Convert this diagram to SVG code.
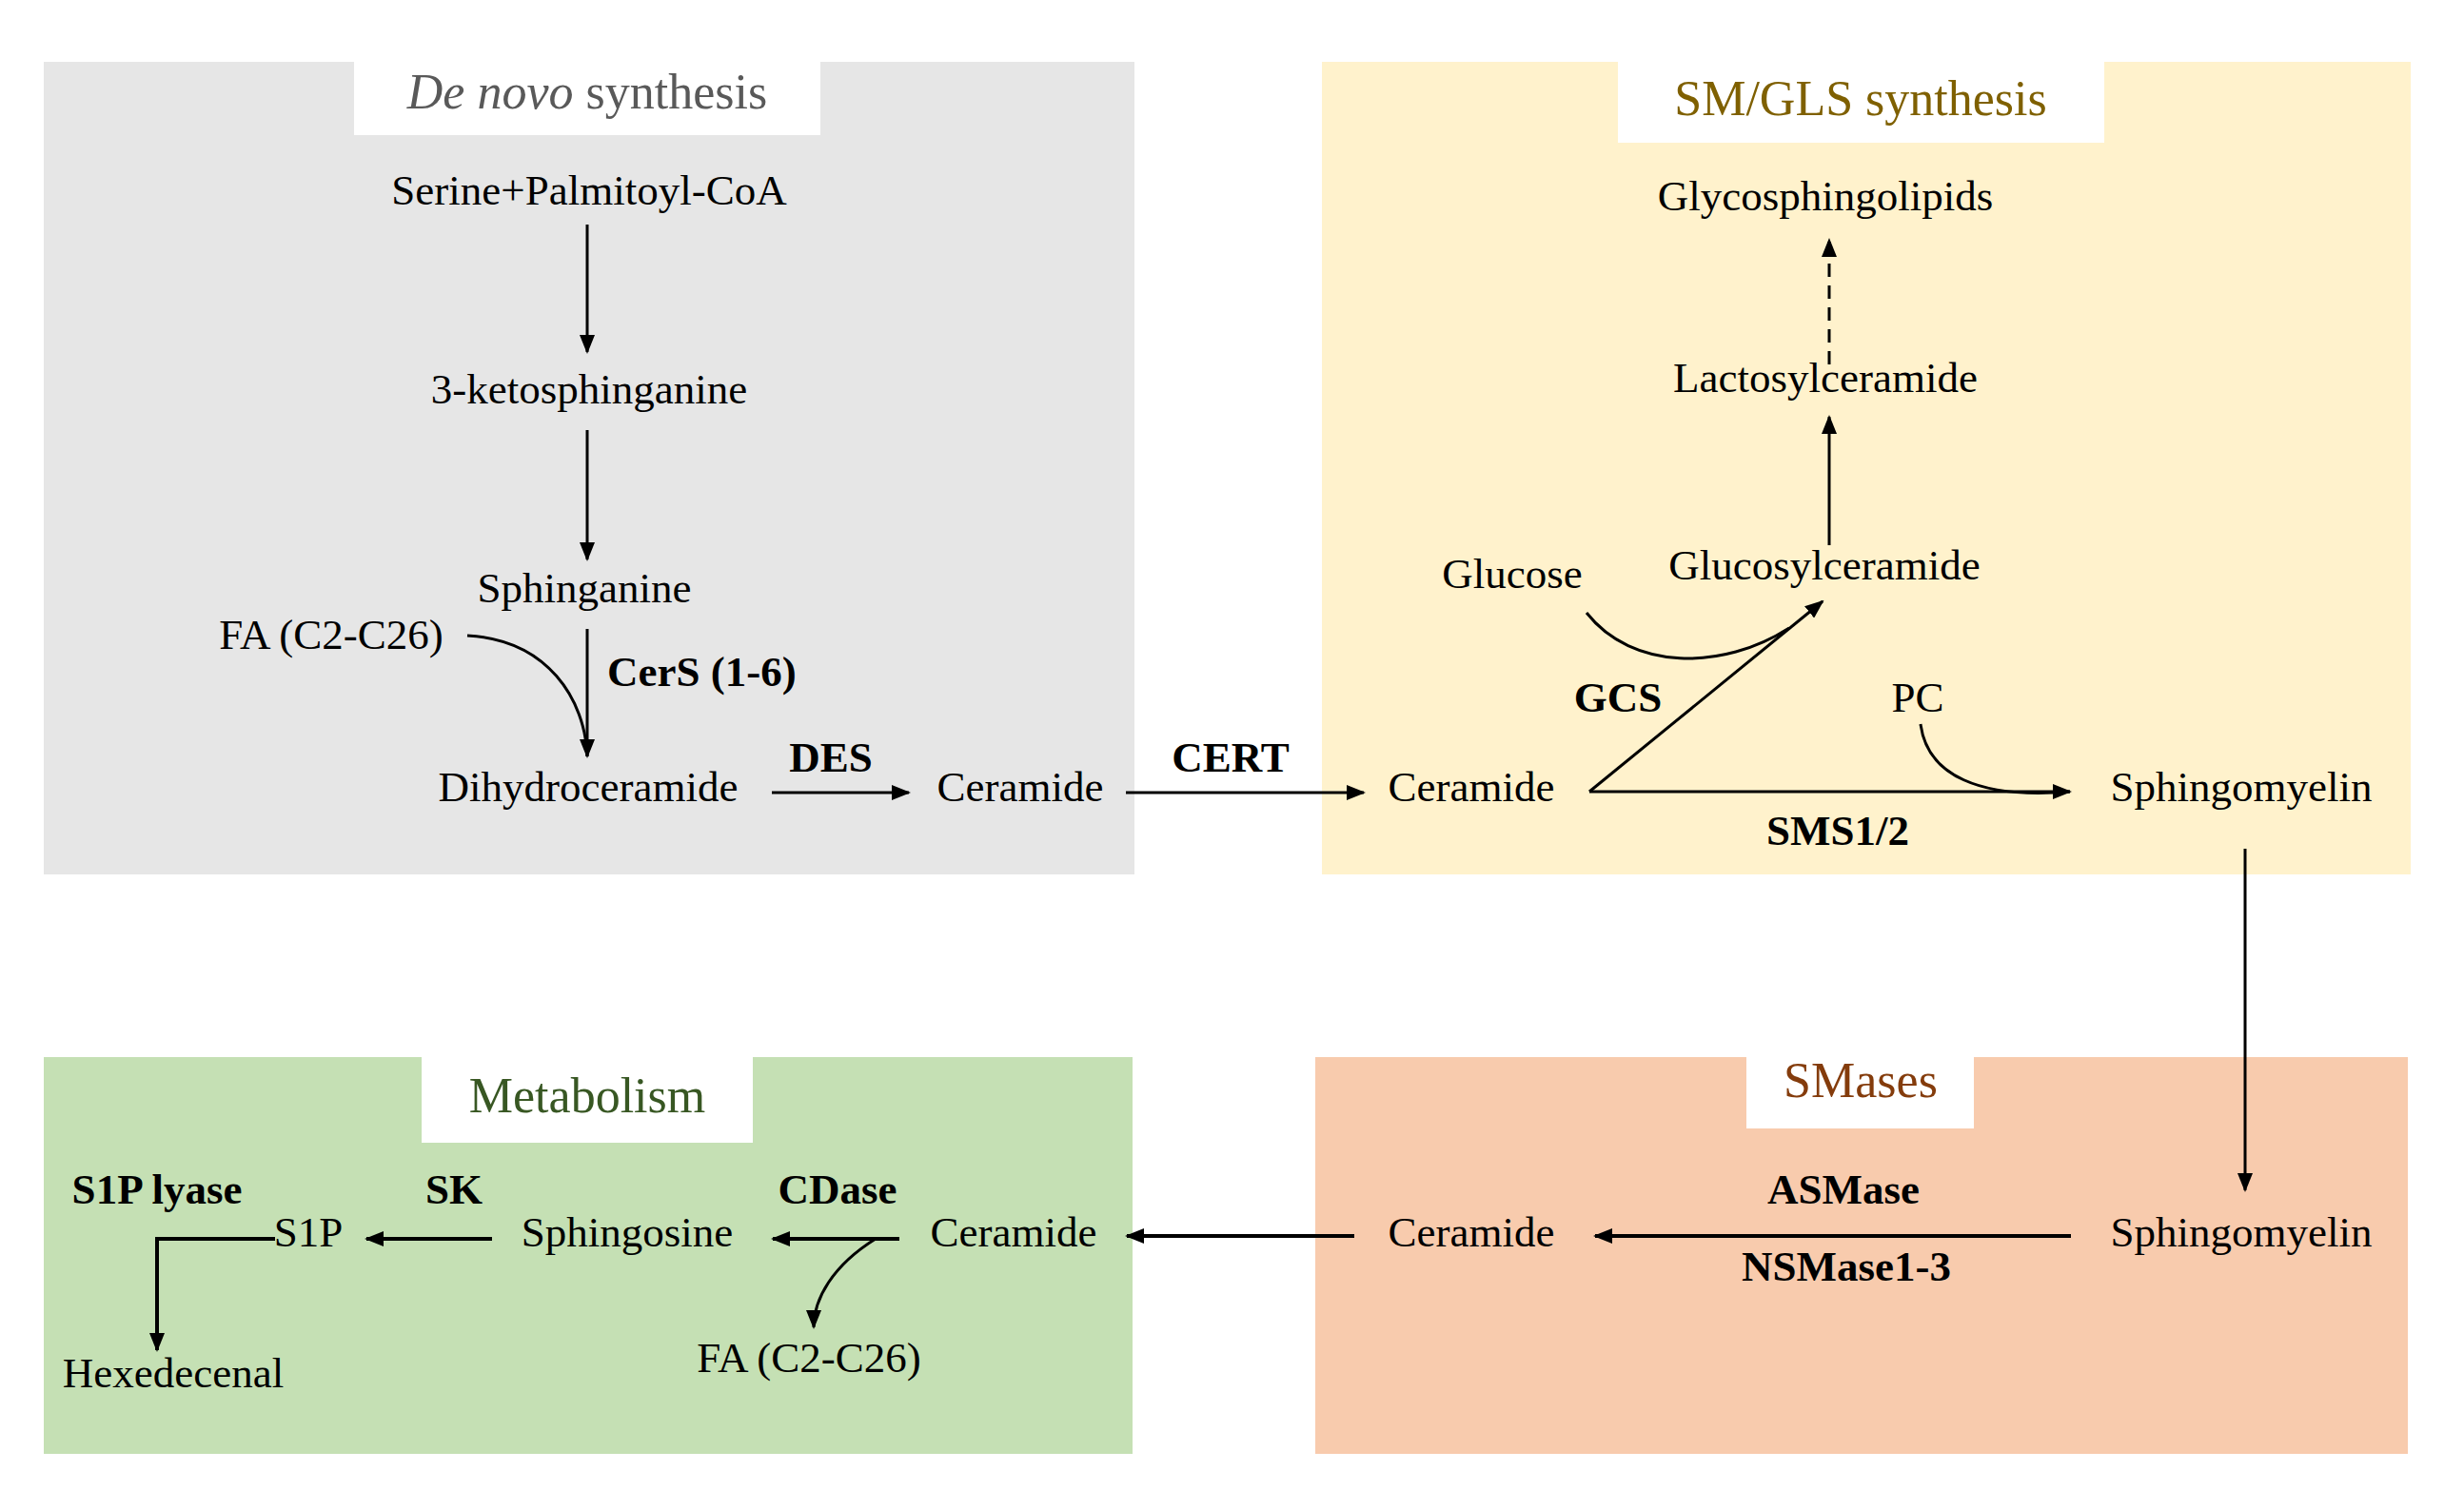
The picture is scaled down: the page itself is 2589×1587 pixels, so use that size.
<svg xmlns="http://www.w3.org/2000/svg" width="2589" height="1587" viewBox="0 0 2589 1587">
<style>
text{font-family:"Liberation Serif","DejaVu Serif",serif;font-size:45px;fill:#000;text-anchor:middle}
.b{font-weight:bold}
.t{font-size:52px}
.ln{fill:none;stroke:#000;stroke-width:3}
.thick{stroke-width:4}
</style>
<defs>
<marker id="ah" markerUnits="userSpaceOnUse" markerWidth="20" markerHeight="16" refX="18" refY="8" orient="auto"><path d="M0,0 L20,8 L0,16 z" fill="#000"/></marker>
</defs>
<rect width="2589" height="1587" fill="#fff"/>
<g id="box-denovo"><rect x="46" y="65" width="1146" height="854" fill="#e6e6e6"/><rect x="372" y="65" width="490" height="77" fill="#fff"/><text class="t" x="617" y="114" fill="#595959" style="fill:#595959"><tspan font-style="italic">De novo</tspan> synthesis</text></g>
<g id="box-smgls"><rect x="1389" y="65" width="1144" height="854" fill="#fff2cc"/><rect x="1700" y="65" width="511" height="85" fill="#fff"/><text class="t" x="1955" y="121" style="fill:#7f6000">SM/GLS synthesis</text></g>
<g id="box-metab"><rect x="46" y="1111" width="1144" height="417" fill="#c5e0b4"/><rect x="443" y="1111" width="348" height="90" fill="#fff"/><text class="t" x="617" y="1169" style="fill:#385723">Metabolism</text></g>
<g id="box-smases"><rect x="1382" y="1111" width="1148" height="417" fill="#f8cbad"/><rect x="1835" y="1111" width="239" height="75" fill="#fff"/><text class="t" x="1955" y="1153" style="fill:#843c0c">SMases</text></g>
<g id="connectors">
<line class="ln" x1="617" y1="236" x2="617" y2="370" marker-end="url(#ah)"/>
<line class="ln" x1="617" y1="452" x2="617" y2="588" marker-end="url(#ah)"/>
<line class="ln" x1="617" y1="661" x2="617" y2="795" marker-end="url(#ah)"/>
<path class="ln" d="M491,668 C575,672 615,735 617,795"/>
<line class="ln" x1="811" y1="833" x2="955" y2="833" marker-end="url(#ah)"/>
<line class="ln" x1="1183" y1="833" x2="1433" y2="833" marker-end="url(#ah)"/>
<line class="ln" x1="1922" y1="383" x2="1922" y2="252" stroke-dasharray="14,9" marker-end="url(#ah)"/>
<line class="ln" x1="1922" y1="573" x2="1922" y2="438" marker-end="url(#ah)"/>
<line class="ln" x1="1670" y1="832" x2="1915" y2="632" marker-end="url(#ah)"/>
<path class="ln" d="M1667,644 C1715,705 1810,705 1880,660"/>
<line class="ln" x1="1670" y1="832" x2="2175" y2="832" marker-end="url(#ah)"/>
<path class="ln" d="M2018,761 C2025,815 2080,840 2175,832"/>
<line class="ln" x1="2359" y1="892" x2="2359" y2="1251" marker-end="url(#ah)"/>
<line class="ln thick" x1="2176" y1="1299" x2="1676" y2="1299" marker-end="url(#ah)"/>
<line class="ln thick" x1="1423" y1="1299" x2="1184" y2="1299" marker-end="url(#ah)"/>
<line class="ln thick" x1="945" y1="1302" x2="812" y2="1302" marker-end="url(#ah)"/>
<path class="ln" d="M920,1302 C875,1330 855,1365 855,1395" marker-end="url(#ah)"/>
<line class="ln thick" x1="517" y1="1302" x2="385" y2="1302" marker-end="url(#ah)"/>
<polyline class="ln thick" points="289,1302 165,1302 165,1419" marker-end="url(#ah)"/>
</g>
<g id="n-serine"><text x="619" y="215">Serine+Palmitoyl-CoA</text></g>
<g id="n-keto"><text x="619" y="424">3-ketosphinganine</text></g>
<g id="n-sphinganine"><text x="614" y="633">Sphinganine</text></g>
<g id="n-fa1"><text x="348" y="682">FA (C2-C26)</text></g>
<g id="l-cers"><text class="b" x="638" y="721" style="text-anchor:start">CerS (1-6)</text></g>
<g id="n-dihydro"><text x="618" y="842">Dihydroceramide</text></g>
<g id="l-des"><text class="b" x="873" y="811">DES</text></g>
<g id="n-cer1"><text x="1072" y="842">Ceramide</text></g>
<g id="l-cert"><text class="b" x="1293" y="811">CERT</text></g>
<g id="n-gsl"><text x="1918" y="221">Glycosphingolipids</text></g>
<g id="n-lac"><text x="1918" y="412">Lactosylceramide</text></g>
<g id="n-glccer"><text x="1917" y="609">Glucosylceramide</text></g>
<g id="n-glucose"><text x="1589" y="618">Glucose</text></g>
<g id="l-gcs"><text class="b" x="1700" y="748">GCS</text></g>
<g id="n-pc"><text x="2015" y="748">PC</text></g>
<g id="n-cer2"><text x="1546" y="842">Ceramide</text></g>
<g id="n-sm1"><text x="2355" y="842">Sphingomyelin</text></g>
<g id="l-sms"><text class="b" x="1931" y="888">SMS1/2</text></g>
<g id="n-sm2"><text x="2355" y="1310">Sphingomyelin</text></g>
<g id="l-asm"><text class="b" x="1937" y="1265">ASMase</text></g>
<g id="l-nsm"><text class="b" x="1940" y="1346">NSMase1-3</text></g>
<g id="n-cer3"><text x="1546" y="1310">Ceramide</text></g>
<g id="n-cer4"><text x="1065" y="1310">Ceramide</text></g>
<g id="l-cdase"><text class="b" x="880" y="1265">CDase</text></g>
<g id="n-fa2"><text x="850" y="1442">FA (C2-C26)</text></g>
<g id="n-sphingosine"><text x="659" y="1310">Sphingosine</text></g>
<g id="l-sk"><text class="b" x="477" y="1265">SK</text></g>
<g id="n-s1p"><text x="324" y="1310">S1P</text></g>
<g id="l-lyase"><text class="b" x="165" y="1265">S1P lyase</text></g>
<g id="n-hex"><text x="182" y="1458">Hexedecenal</text></g>
</svg>
